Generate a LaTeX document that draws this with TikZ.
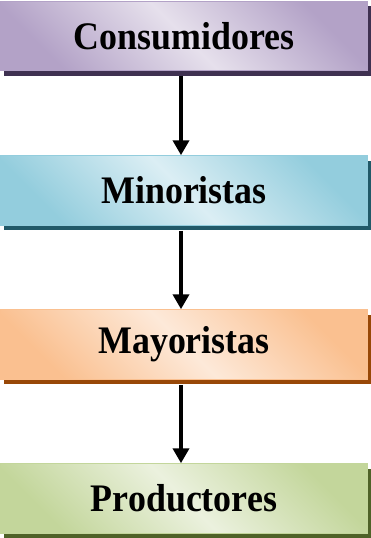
\documentclass[tikz,border=0pt]{standalone}
\usepackage{fontspec}
\setmainfont{Liberation Serif}
\usetikzlibrary{shadows,arrows.meta}
\definecolor{pD}{HTML}{B3A2C7}\definecolor{pL}{HTML}{E6E0EC}\definecolor{pS}{HTML}{3F3151}
\definecolor{bD}{HTML}{93CDDD}\definecolor{bL}{HTML}{DBEEF4}\definecolor{bS}{HTML}{215968}
\definecolor{oD}{HTML}{FAC090}\definecolor{oL}{HTML}{FDE9D9}\definecolor{oS}{HTML}{984807}
\definecolor{gD}{HTML}{C3D69B}\definecolor{gL}{HTML}{EBF1DE}\definecolor{gS}{HTML}{4F6228}
\newcommand\sqz[1]{\scalebox{0.92}[1]{#1}}
\tikzset{
  box/.style n args={3}{draw=#1, line width=1pt, top color=#1, bottom color=#1, middle color=#2,
    shading angle=-45, minimum width=367pt, minimum height=69.5pt, inner sep=0pt,
    font=\fontsize{39}{42}\selectfont\bfseries,
    drop shadow={shadow xshift=3pt, shadow yshift=-5pt, fill=#3, opacity=1}},
  arr/.style={line width=4pt, -{Triangle[width=16pt,length=15pt]}, shorten <=5pt}
}
\begin{document}
\begin{tikzpicture}[x=1pt,y=1pt]
\useasboundingbox (0,0) rectangle (371,-538);
\node[box={pD}{pL}{pS}] (c) at (184,-36) {\sqz{Consumidores}};
\node[box={bD}{bL}{bS}] (m) at (184,-190.5) {\sqz{Minoristas}};
\node[box={oD}{oL}{oS}] (y) at (184,-344.5) {\sqz{Mayoristas}};
\node[box={gD}{gL}{gS}] (p) at (184,-498.5) {\sqz{Productores}};
\draw[arr] (c.south -| 181,0) -- (m.north -| 181,0);
\draw[arr] (m.south -| 181,0) -- (y.north -| 181,0);
\draw[arr] (y.south -| 181,0) -- (p.north -| 181,0);
\end{tikzpicture}
\end{document}
